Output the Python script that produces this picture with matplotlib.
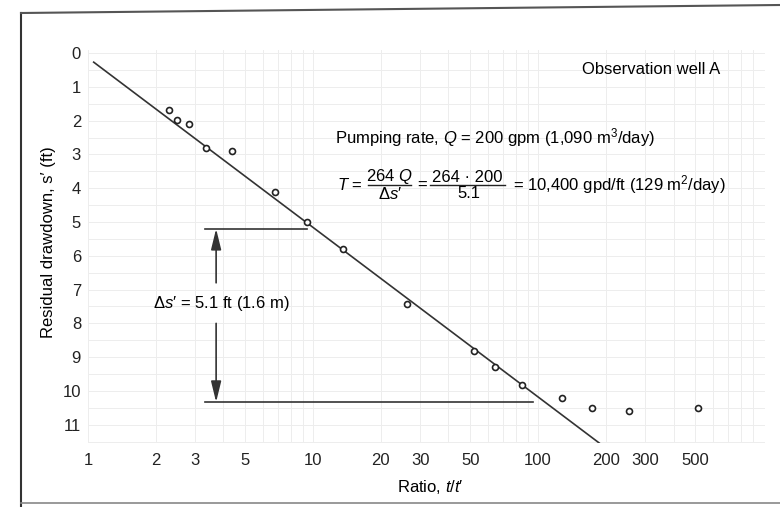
import numpy as np
import matplotlib.pyplot as plt
from matplotlib.lines import Line2D
from matplotlib.ticker import FixedLocator, NullFormatter

plt.rcParams['font.family'] = ['Liberation Sans', 'DejaVu Sans']
plt.rcParams['mathtext.fontset'] = 'custom'
plt.rcParams['mathtext.rm'] = 'Liberation Sans'
plt.rcParams['mathtext.it'] = 'Liberation Sans:italic'
plt.rcParams['mathtext.bf'] = 'Liberation Sans:bold'

# observed recovery data (ratio t/t', residual drawdown s' in ft)
ratio = [2.29, 2.49, 2.81, 3.35, 4.37, 6.78, 9.4, 13.6, 26.2, 52, 64.4, 84.9,
         128, 174, 254, 514]
drawdown = [1.69, 1.98, 2.1, 2.81, 2.9, 4.11, 5.0, 5.8, 7.43, 8.82, 9.29, 9.82,
            10.2, 10.5, 10.6, 10.5]

# fitted straight line
line_ratio = [1.06, 187]
line_s = [0.27, 11.54]

# delta s' construction
upper_s, lower_s = 5.2, 10.33
upper_x = [3.31, 9.4]
lower_x = [3.31, 95]
arrow_x = 3.71

xticks = [1, 2, 3, 5, 10, 20, 30, 50, 100, 200, 300, 500]
yticks = list(range(0, 12))

W, H = 780, 507
fig = plt.figure(figsize=(7.8, 5.07), dpi=100)
ax = fig.add_axes([88 / W, 1 - 443 / H, (765 - 88) / W, (443 - 50) / H])


def px(x, y):
    # figure pixel position (from top-left) -> figure fraction
    return x / W, 1 - y / H


ax.set_xscale('log')
ax.set_xlim(1, 1020)
ax.set_ylim(11.54, -0.09)

# faint graph-paper grid
ax.xaxis.set_minor_locator(FixedLocator([m * 10 ** d for d in range(0, 4) for m in range(2, 10)]))
ax.xaxis.set_minor_formatter(NullFormatter())
ax.yaxis.set_minor_locator(FixedLocator(np.arange(0, 11.6, 0.5)))
ax.grid(True, which='both', color='#ededed', lw=0.7)
ax.set_axisbelow(True)

ax.set_xticks(xticks)
ax.set_xticklabels([str(t) for t in xticks])
ax.set_yticks(yticks)
ax.tick_params(which='both', length=0, labelsize=12, colors='#222222')
ax.tick_params(axis='x', pad=7)
ax.tick_params(axis='y', pad=5)
for s in ax.spines.values():
    s.set_visible(False)

ax.plot(line_ratio, line_s, color='#333333', lw=1.2)
ax.plot(ratio, drawdown, 'o', ms=4.3, mfc='white', mec='#222222', mew=1.2)

ax.plot(upper_x, [upper_s, upper_s], color='#333333', lw=1.2)
ax.plot(lower_x, [lower_s, lower_s], color='#333333', lw=1.2)
astyle = dict(arrowstyle='-|>,head_length=0.9,head_width=0.22', color='#333333',
              lw=1.2, shrinkA=0, shrinkB=0, mutation_scale=14)
ax.annotate('', xy=(arrow_x, upper_s), xytext=(arrow_x, 6.8), arrowprops=astyle)
ax.annotate('', xy=(arrow_x, lower_s), xytext=(arrow_x, 8.0), arrowprops=astyle)

ax.text(1.945, 7.4, '$\\Delta s$\u2032 = 5.1 ft (1.6 m)', fontsize=12, va='center', ha='left')
ax.text(157, 0.5, 'Observation well A', fontsize=12, va='center', ha='left')
ax.text(12.5, 2.49, r'Pumping rate, $Q$ = 200 gpm (1,090 m$^3$/day)',
        fontsize=12, va='center', ha='left')

# transmissivity equation built from pieces
fs = 12
fig.text(*px(337, 185), '$T$ =', fontsize=fs, ha='left', va='center')
fig.text(*px(389, 177), '264 $Q$', fontsize=fs, ha='center', va='center')
fig.text(*px(390, 194), '$\\Delta s$\u2032', fontsize=fs, ha='center', va='center')
fig.add_artist(Line2D([368 / W, 411 / W], [1 - 185 / H] * 2, color='#222222', lw=1.0))
fig.text(*px(422, 185), '=', fontsize=fs, ha='center', va='center')
fig.text(*px(467, 177), '264 \u00b7 200', fontsize=fs, ha='center', va='center')
fig.text(*px(469, 194), '5.1', fontsize=fs, ha='center', va='center')
fig.add_artist(Line2D([430 / W, 505 / W], [1 - 185 / H] * 2, color='#222222', lw=1.0))
fig.text(*px(513, 185), '= 10,400 gpd/ft (129 m$^2$/day)', fontsize=fs, ha='left', va='center')

ax.set_xlabel(r"Ratio, $t/t$" + '\u2032', fontsize=12)
ax.xaxis.set_label_coords(0.505, -0.089)
ax.set_ylabel('Residual drawdown, s\u2032 (ft)', fontsize=12)
ax.yaxis.set_label_coords(-0.047, 0.51)

# scanned page frame
fig.add_artist(Line2D([21 / W, 21 / W], [0, 1 - 13 / H], color='#333333', lw=1.5))
fig.add_artist(Line2D([21 / W, 1], [1 - 13 / H, 1 - 5 / H], color='#555555', lw=1.5))
fig.add_artist(Line2D([21 / W, 1], [1 - 503 / H, 1 - 503 / H], color='#888888', lw=1.2))

fig.savefig('out.png', dpi=100)
